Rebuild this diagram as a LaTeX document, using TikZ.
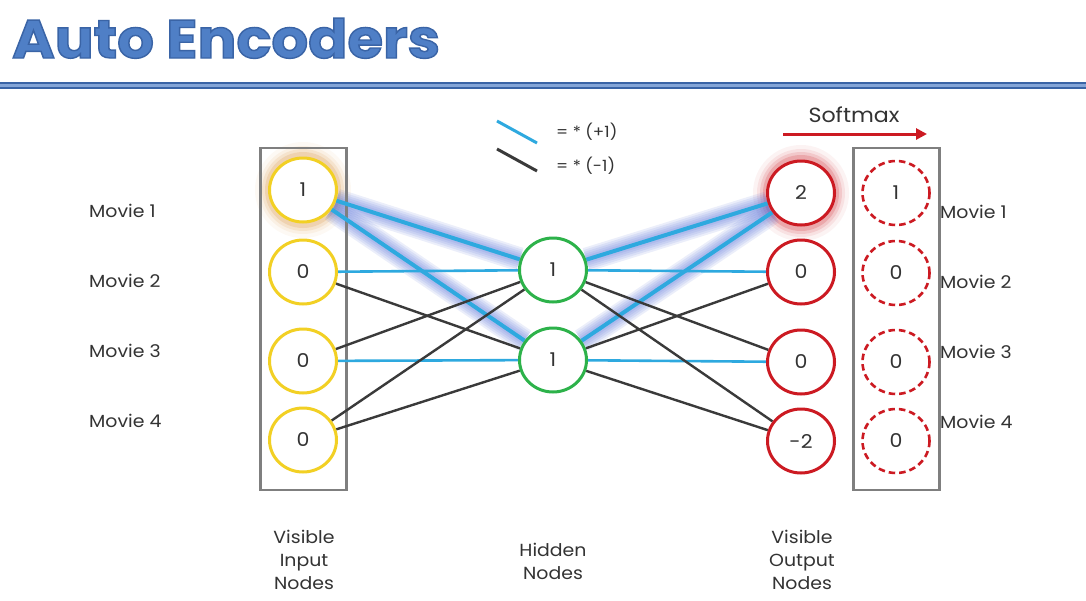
\documentclass[tikz,border=0pt]{standalone}
\usepackage{fontspec}
\setmainfont{Poppins}[FakeStretch=1.08]
\newfontfamily\titlefont{Poppins}
\usetikzlibrary{arrows.meta,shapes.geometric}
\definecolor{tblue}{HTML}{4F7FC6}
\definecolor{tbluedark}{HTML}{3A64A6}
\definecolor{ryellow}{HTML}{F2D024}
\definecolor{rgreen}{HTML}{2DB24A}
\definecolor{rred}{HTML}{CC1A22}
\definecolor{ecyan}{HTML}{2EA9DF}
\definecolor{eblack}{HTML}{3A3A3A}
\definecolor{glowblue}{HTML}{4A68D8}
\definecolor{glowor}{HTML}{D98A2E}
\definecolor{txt}{HTML}{333333}
\definecolor{boxgray}{HTML}{7F7F7F}
\pgfdeclarelayer{base}
\pgfdeclarelayer{glow}
\pgfdeclarelayer{bg}
\pgfsetlayers{base,glow,bg,main}
\newcommand\outlinedtext[1]{\special{pdf:code q 2 Tr 1.4 w 0.227 0.392 0.651 RG}#1\special{pdf:code Q}}
\tikzset{
  neuron/.style={ellipse, minimum width=67pt, minimum height=64pt, inner sep=0pt, line width=3pt, fill=white, text=txt, font=\fontsize{19}{19}\selectfont},
  inneuron/.style={neuron, draw=ryellow},
  hidneuron/.style={neuron, draw=rgreen},
  outneuron/.style={neuron, draw=rred},
  softneuron/.style={neuron, draw=rred, dash pattern=on 6.5pt off 4pt, line width=2.6pt, minimum width=67pt, minimum height=64pt},
  boxst/.style={draw=boxgray, line width=2.5pt, minimum width=86pt, minimum height=342pt, inner sep=0pt},
  lbl/.style={text=txt, font=\fontsize{17.5}{17.5}\selectfont, inner sep=0pt},
  wplus/.style={draw=ecyan, line width=2.6pt},
  wminus/.style={draw=eblack, line width=2.4pt},
  wstrong/.style={draw=ecyan, line width=4pt},
  halo/.style={draw=glowblue, line width=#1, opacity=0.11},
  titlest/.style={font=\titlefont\fontsize{54}{54}\selectfont\bfseries, anchor=base west, inner sep=0pt}
}
\begin{document}
\begin{tikzpicture}[x=1pt,y=-1pt]
\begin{pgfonlayer}{base}
\useasboundingbox[fill=white] (0,0) rectangle (1086,600);
\end{pgfonlayer}
% title
\node[titlest, text=tblue] (title) at (12,58) {\scalebox{1.07}[1]{\outlinedtext{Auto Encoders}}};
\fill[tbluedark] (0,82) rectangle (1086,89);
\fill[tblue!70!white] (0,84.3) rectangle (1086,86.7);

% nodes
\node[inneuron] (in1) at (303,190) {1};
\node[inneuron] (in2) at (303,272) {0};
\node[inneuron] (in3) at (303,361) {0};
\node[inneuron] (in4) at (303,440) {0};
\node[hidneuron] (h1) at (553,270) {1};
\node[hidneuron] (h2) at (553,360) {1};
\node[outneuron] (o1) at (801,193) {2};
\node[outneuron] (o2) at (801,272) {0};
\node[outneuron] (o3) at (801,362) {0};
\node[outneuron] (o4) at (801,441) {-2};
\node[softneuron] (s1) at (896,193) {1};
\node[softneuron] (s2) at (896,273) {0};
\node[softneuron] (s3) at (896,362) {0};
\node[softneuron] (s4) at (896,441) {0};

\begin{pgfonlayer}{glow}
  \foreach \r/\o in {48/0.05,44/0.08,41/0.12,38/0.18}{
    \fill[glowor, opacity=\o] (in1) circle (\r pt);
    \fill[rred, opacity=\o] (o1) circle (\r pt);
  }
  \foreach \w in {24,20,16,12,8}{
    \draw[halo=\w pt] (in1) -- (h1);
    \draw[halo=\w pt] (in1) -- (h2);
    \draw[halo=\w pt] (h1) -- (o1);
    \draw[halo=\w pt] (h2) -- (o1);
  }
\end{pgfonlayer}

\begin{pgfonlayer}{bg}
  \node[boxst] (inbox) at (303.5,319) {};
  \node[boxst] (smbox) at (896.5,319) {};
  \draw[wstrong] (in1) -- (h1);
  \draw[wstrong] (in1) -- (h2);
  \draw[wplus] (in2) -- (h1);
  \draw[wminus] (in2) -- (h2);
  \draw[wminus] (in3) -- (h1);
  \draw[wplus] (in3) -- (h2);
  \draw[wminus] (in4) -- (h1);
  \draw[wminus] (in4) -- (h2);
  \draw[wstrong] (h1) -- (o1);
  \draw[wstrong] (h2) -- (o1);
  \draw[wplus] (h1) -- (o2);
  \draw[wminus] (h2) -- (o2);
  \draw[wminus] (h1) -- (o3);
  \draw[wplus] (h2) -- (o3);
  \draw[wminus] (h1) -- (o4);
  \draw[wminus] (h2) -- (o4);
\end{pgfonlayer}

% movie labels
\node[lbl, anchor=west] (ml1) at (89,211) {Movie 1};
\node[lbl, anchor=west] (ml2) at (89,281) {Movie 2};
\node[lbl, anchor=west] (ml3) at (89,351) {Movie 3};
\node[lbl, anchor=west] (ml4) at (89,421) {Movie 4};
\node[lbl, anchor=west] (mr1) at (940,212) {Movie 1};
\node[lbl, anchor=west] (mr2) at (940,282) {Movie 2};
\node[lbl, anchor=west] (mr3) at (940,352) {Movie 3};
\node[lbl, anchor=west] (mr4) at (940,422) {Movie 4};

% bottom labels
\node[lbl, align=center, font=\fontsize{17.5}{23}\selectfont] (bin) at (304,560) {Visible\\Input\\Nodes};
\node[lbl, align=center, font=\fontsize{17.5}{23}\selectfont] (bhid) at (553,561) {Hidden\\Nodes};
\node[lbl, align=center, font=\fontsize{17.5}{23}\selectfont] (bout) at (802,560) {Visible\\Output\\Nodes};

% legend
\coordinate (lb1) at (497,121);
\coordinate (lb2) at (537,143);
\coordinate (lk1) at (497,149);
\coordinate (lk2) at (537,171);
\draw[draw=ecyan, line width=3pt] (lb1) -- (lb2);
\draw[draw=eblack, line width=3pt] (lk1) -- (lk2);
\node[lbl, anchor=west, font=\fontsize{15.5}{15.5}\selectfont] (lt1) at (556,132) {= * (+1)};
\node[lbl, anchor=west, font=\fontsize{15.5}{15.5}\selectfont] (lt2) at (556,166) {= * (-1)};

% softmax
\node[lbl, font=\fontsize{20.5}{20.5}\selectfont] (smx) at (854,115) {Softmax};
\coordinate (sa1) at (783,134);
\coordinate (sa2) at (927,134);
\draw[draw=rred, line width=3pt, -{Triangle[length=11pt,width=11pt]}] (sa1) -- (sa2);
\end{tikzpicture}
\end{document}
